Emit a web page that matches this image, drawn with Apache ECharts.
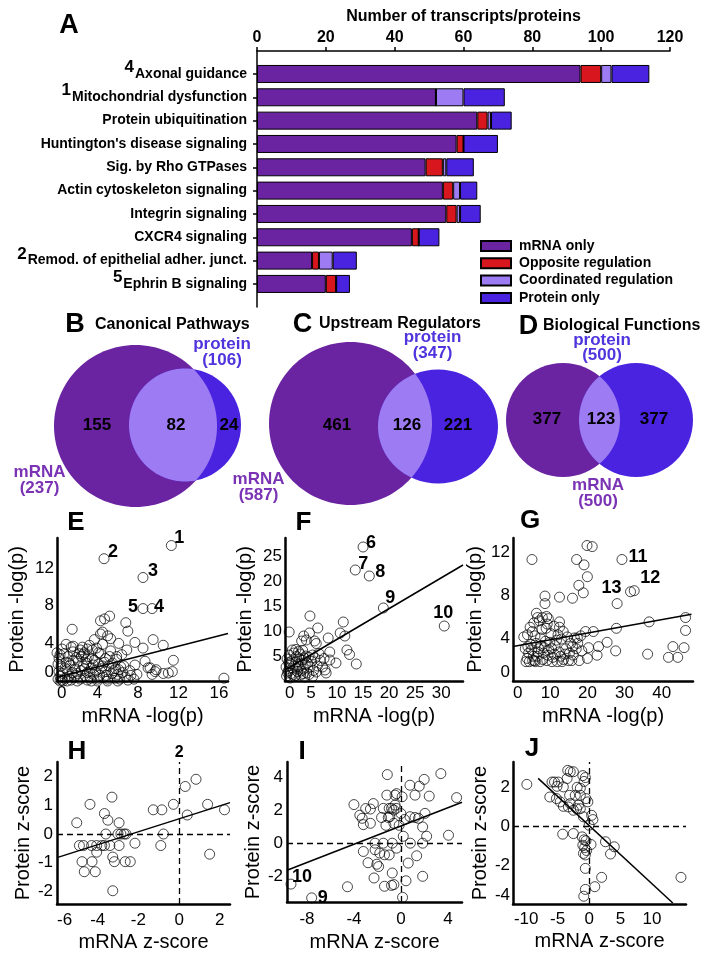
<!DOCTYPE html>
<html><head><meta charset="utf-8">
<script src="https://cdn.jsdelivr.net/npm/echarts@6/dist/echarts.min.js"></script>
<style>html,body{margin:0;padding:0;background:#fff}#c{width:704px;height:960px}</style>
</head><body><div id="c"></div>
<script>
// ---------- Panel A data ----------
const pathways = ['Axonal guidance','Mitochondrial dysfunction','Protein ubiquitination',"Huntington's disease signaling",'Sig. by Rho GTPases','Actin cytoskeleton signaling','Integrin signaling','CXCR4 signaling','Remod. of epithelial adher. junct.','Ephrin B signaling'];
const pathwayNumbers = ['4','1','','','','','','','2','5'];
const mrnaOnly       = [94,52,64,58,49,54,55,45,16,20];
const oppositeReg    = [6,0,3,2,5,3,3,2,2,3];
const coordinatedReg = [3,8,1,0,1,2,1,0,4,0];
const proteinOnly    = [11,12,6,10,8,5,6,6,7,4];
const seriesNamesA   = ['mRNA only','Opposite regulation','Coordinated regulation','Protein only'];

// ---------- Venn data (B, C, D) ----------
const vennTitles      = ['Canonical Pathways','Upstream Regulators','Biological Functions'];
const vennLetters     = ['B','C','D'];
const vennMrnaOnly    = [155,461,377];
const vennBoth        = [82,126,123];
const vennProteinOnly = [24,221,377];

// ---------- Panel E ----------
const ePoints = [[1.5,5.5],[4.3,6.4],[4.7,6.6],[5.2,6.9],[6.8,6.2],[7.0,5.3],[4.5,5.2],[5.0,4.8],[5.3,4.5],[3.7,4.4],[0.3,2.8],[8.5,3.5],[7.7,4.1],[9.5,4.4],[10.5,3.8],[6.1,4.0],[6.9,3.3],[8.7,2.1],[9.2,1.4],[9.7,1.0],[11.5,2.2],[10.5,0.8],[11.0,0.85],[11.4,1.0],[7.2,1.1],[16.5,0.3],[5.9,2.6],[1.6,3.7],[3.0,3.4],[2.6,2.8],[4.3,5.0],[7.7,1.7],[9.4,0.7],[9.8,1.2],[9.0,1.4],
[0.1,0.2],[0.3,0.5],[0.5,0.1],[0.2,1.0],[0.6,0.8],[0.8,0.3],[1.0,1.2],[0.4,1.6],[0.9,2.0],[0.2,2.4],[1.2,0.5],[1.4,0.1],[1.5,0.9],[1.3,1.7],[1.7,0.4],[1.8,1.3],[2.0,0.8],[2.1,2.1],[2.3,0.2],[2.4,1.1],[2.6,1.6],[2.2,2.9],[2.8,0.5],[2.9,1.9],[3.0,0.9],[3.1,2.6],[3.3,0.3],[3.4,1.4],[3.5,3.3],[3.6,0.7],[3.7,2.2],[3.8,1.1],[4.0,0.2],[4.1,1.8],[4.2,0.6],[4.3,2.9],[4.4,1.3],[4.6,0.4],[4.7,2.0],[4.8,1.0],[5.0,0.2],[5.1,1.6],[5.2,2.6],[5.4,0.8],[5.5,1.9],[5.7,0.3],[5.8,1.3],[6.0,0.7],[6.2,0.2],[6.3,1.5],[6.5,0.9],[6.8,0.4],[7.0,0.1],[7.3,0.6],[0.0,3.0],[0.7,2.9],[1.1,2.6],[1.6,3.1],[2.5,3.6],[2.7,3.0],[3.2,3.8],[3.9,3.5],[4.5,3.9],[1.9,2.5],[0.5,3.4],[1.0,0.0],[2.0,0.0],[3.0,0.1],[4.0,0.0],[5.0,0.0],[6.0,0.0],[0.3,0.0],[1.6,2.2],[2.9,2.3],[3.4,0.0],[4.9,0.6],[5.6,1.1],[6.6,1.6],[5.3,3.2],[3.6,1.7],[2.4,2.6],[1.2,1.9],[0.8,1.4],[0.1,1.8],[0.6,0.0],[1.9,0.6],[2.7,1.3],[3.2,1.0],[4.5,1.6],[5.9,2.3],[6.4,2.8],[7.6,0.2],[7.9,0.7],[2.3,3.3],[4.1,3.0],[3.5,2.4],[1.4,3.6],[0.9,3.9],[4.8,2.4],[6.1,1.2]];
const eMarked = [[11.3,14.4],[4.65,13.0],[8.5,11.0],[9.4,7.7],[8.5,7.7]];
const eMarkedText = ['1','2','3','4','5'];
const eFit = [[0,0.4],[16.9,5.05]];
const eXTicks = [0,4,8,12,16];
const eYTicks = [0,4,8,12];

// ---------- Panel F ----------
const fPoints = [[0.8,9.8],[4.8,13],[6.3,10.6],[11.2,11.8],[10.6,9.6],[11.5,9],[11.9,6.2],[12.4,5.3],[13.7,3.4],[8.3,8.6],[4.7,9.6],[4.1,8.2],[5.7,8],[8.6,5.8],[8.6,4.2],[9.8,3.6],[7.5,4.5],[7.7,2.2],[7.9,1.6],[5.3,5.2],[2.6,5.9],[3.6,9.0],[3.2,8.0],[6.0,7.5],[2.1,6.3],
[0.3,1.0],[0.6,2.0],[0.9,3.1],[1.2,1.5],[1.5,2.6],[1.8,0.9],[2.1,3.8],[2.4,1.9],[2.7,2.9],[3.0,1.2],[3.3,4.2],[3.6,2.4],[3.9,3.3],[4.2,1.6],[4.5,4.8],[4.8,2.8],[5.1,3.9],[0.4,4.4],[0.8,5.2],[1.3,4.0],[1.7,5.6],[2.2,4.9],[2.9,5.4],[3.4,6.1],[1.0,0.6],[2.0,1.1],[3.8,0.8],[4.6,1.3],[5.5,2.1],[6.2,3.0],[6.8,4.1],[7.2,2.8],[5.8,4.6],[6.5,5.5],[0.2,2.8],[1.1,3.5],[2.5,3.3],[3.1,2.0],[4.0,5.0],[1.6,1.3],[0.5,1.6],[2.8,4.4],[3.5,1.5],[4.3,3.6],[1.4,6.2],[5.3,0.9],[6.0,1.8],[2.3,2.4],[0.7,3.7],[3.7,4.6]];
const fMarked = [[15,26.8],[13.5,22.2],[16.2,21],[18.9,14.6],[30.6,11]];
const fMarkedText = ['6','7','8','9','10'];
const fFit = [[0,2.2],[34.2,23.2]];
const fXTicks = [0,5,10,15,20,25,30];
const fYTicks = [5,10,15,20,25];

// ---------- Panel G ----------
const gPoints = [[5.1,11.3],[19.9,12.6],[21.3,12.5],[17.1,11.3],[19.1,10.8],[20,9.7],[17.7,8.9],[18.9,8.2],[16,7.7],[12.5,7.8],[8.6,7.9],[8.6,7.2],[9.05,6.0],[9.5,5.8],[12.5,5.5],[12.5,5.0],[21.6,4.6],[27.8,4.9],[36.6,5.5],[46.4,5.9],[46.4,4.7],[46,3.1],[43,3.2],[41.8,2.2],[44.3,2.2],[36.2,2.5],[27.6,2.8],[25.3,3.6],[23,3.2],[22.6,2.4],[20,2.1],[20.3,3.1],[28,7.2],[17.3,4.0],
[3.5,1.8],[4.2,2.6],[4.8,3.4],[5.3,1.9],[5.9,4.2],[6.4,2.3],[6.9,3.0],[7.3,1.8],[7.8,4.8],[8.2,2.6],[8.7,3.7],[9.1,1.9],[9.6,2.9],[10.2,4.4],[10.7,2.2],[11.3,3.3],[11.9,1.8],[12.4,2.7],[13.0,3.9],[13.6,2.0],[14.2,3.0],[14.9,1.9],[15.5,3.5],[16.2,2.4],[17.0,3.0],[17.8,1.9],[18.5,2.8],[3.9,4.3],[4.6,5.0],[5.6,5.4],[6.6,5.9],[7.1,5.6],[6.2,3.5],[5.0,2.9],[7.6,3.3],[8.9,4.9],[9.9,3.6],[11.0,5.1],[12.1,4.3],[13.5,4.6],[14.6,4.1],[16.5,4.0],[4.0,3.2],[5.5,2.3],[6.0,1.8],[8.0,2.0],[9.4,2.4],[10.5,1.8],[12.8,2.3],[15.2,2.6],[3.8,2.1],[4.4,1.8],[5.2,4.6],[6.7,2.7],[7.4,4.0],[8.4,3.1],[9.2,5.3],[10.4,3.0],[11.7,3.8],[13.2,1.8],[14.0,2.5],[15.8,1.9],[17.4,3.5],[18.2,4.2],[19.5,4.6],[2.9,4.1],[3.3,3.0],[6.3,6.3],[7.9,5.9],[5.8,1.9],[11.1,2.5],[16.0,3.2]];
const gMarked = [[29.3,11.3],[32.6,8.4],[31.6,8.3]];
const gMarkedText = ['11','12','13'];
const gFit = [[0,3.2],[48,6.2]];
const gXTicks = [0,10,20,30,40];
const gYTicks = [0,4,8,12];

// ---------- Panel H ----------
const hPoints = [[-5.03,0.39],[-4.38,1.03],[-3.3,1.28],[-3.67,0.71],[-3.5,0.48],[-2.95,0.39],[-3.6,0.0],[-3.0,0.0],[-2.86,0.0],[-2.7,0.0],[-2.61,0.0],[-4.7,-0.4],[-4.05,-0.4],[-3.8,-0.4],[-3.67,-0.4],[-3.4,-0.4],[-2.95,-0.4],[-2.17,-0.32],[-4.05,-0.63],[-3.26,-0.8],[-3.18,-0.96],[-4.77,-0.96],[-4.28,-0.96],[-2.65,-0.96],[-2.4,-0.96],[-4.66,-1.31],[-4.12,-1.31],[-3.26,-1.97],[-1.27,0.84],[-0.85,0.84],[-0.28,1.03],[-0.77,0.0],[-0.9,-0.4],[0.3,1.65],[0.83,1.9],[0.4,0.66],[1.4,1.03],[2.23,0.84],[1.5,-0.7],[-4.9,-0.4],[-4.3,-0.4]];
const hFit = [[-6,-0.82],[2.5,1.09]];
const hXTicks = [-6,-4,-2,0,2];
const hYTicks = [-2,-1,0,1,2];
const hLineLabel = '2';

// ---------- Panel I ----------
const iPoints = [[-1.16,4.14],[3.4,4.2],[1.98,3.85],[0.77,3.5],[1.56,3.44],[1.2,2.9],[2.41,2.84],[-0.37,2.99],[0.1,2.8],[-1.2,2.9],[-0.5,2.9],[-2.35,2.39],[-2.6,2.06],[-4.0,2.33],[-3.0,2.09],[-1.5,2.1],[-1.0,2.1],[-0.8,2.1],[-0.6,2.0],[-0.4,2.1],[-0.5,2.3],[4.74,2.75],[-3.5,1.69],[-3.3,1.5],[-2.6,1.2],[-3.2,1.12],[-1.65,1.55],[-1.08,1.55],[-0.95,1.6],[0.0,1.79],[0.3,1.43],[0.77,1.6],[1.2,1.55],[1.5,1.5],[2.05,1.8],[-0.15,1.08],[-0.6,1.2],[-1.28,1.08],[1.85,0.98],[2.19,0.42],[4.05,0.48],[0.2,0.42],[-2.2,0.0],[-1.5,0.0],[-0.74,0.0],[0.8,0.0],[1.85,0.0],[-3.2,-0.5],[-2.2,-0.4],[-1.8,-0.6],[-1.4,-0.7],[-2.8,-1.18],[-2.05,-1.27],[-1.9,-1.41],[-1.0,-0.71],[-0.37,-0.3],[0.62,-1.2],[1.34,-0.76],[-0.74,-1.8],[-2.29,-2.1],[1.85,-2.0],[0.43,-2.27],[-1.4,-2.6],[-0.6,-2.5],[-0.8,-2.55],[-4.55,-2.63],[0.14,-3.27]];
const iMarked = [[-9.36,-2.47],[-7.6,-3.3]];
const iMarkedText = ['10','9'];
const iFit = [[-9.7,-1.63],[5.2,2.47]];
const iXTicks = [-8,-4,0,4];
const iYTicks = [-2,0,2,4];

// ---------- Panel J ----------
const jPoints = [[-9.9,2.15],[-3.4,2.87],[-3.0,2.8],[-2.5,2.8],[-3.5,2.45],[-5.9,2.27],[-5.5,2.27],[-4.9,2.27],[-5.1,2.05],[-4.1,2.02],[-1.9,2.0],[-1.4,1.95],[-0.8,2.3],[-0.6,2.5],[-1.0,2.6],[-3.1,1.59],[-2.2,1.59],[-1.4,1.59],[-0.5,1.42],[-0.2,1.25],[-6.25,1.5],[-5.2,1.42],[-4.6,1.25],[-4.1,1.02],[-3.3,0.99],[-3.0,1.16],[-1.7,1.08],[-1.4,0.9],[-2.5,0.82],[-2.0,0.9],[-0.9,0.48],[0.4,0.56],[0.6,0.34],[0.0,0.05],[-4.2,-0.41],[-2.5,-0.38],[-1.1,-0.55],[-0.8,-0.7],[-0.5,-0.75],[-1.0,-0.98],[-0.7,-1.1],[-0.4,-1.25],[-0.9,-1.4],[-0.6,-1.48],[0.3,-0.94],[2.6,-0.8],[4.0,-1.06],[3.4,-1.43],[-0.6,-2.17],[1.99,-2.63],[0.9,-3.11],[-0.6,-3.25],[-0.85,-3.6],[14.6,-2.63]];
const jFit = [[-8.1,2.46],[13.3,-3.95]];
const jXTicks = [-10,-5,0,5,10];
const jYTicks = [-4,-2,0,2];

// ================= rendering =================
const FONT = "'Liberation Sans', Arial, Helvetica, sans-serif";
const C_MRNA = '#6A23A1', C_OPP = '#D8161E', C_COORD = '#9D7BF2', C_PROT = '#4A23E0';
const chart = echarts.init(document.getElementById('c'), null, {renderer:'canvas', width:704, height:960});

const grids = [
  {left:257, top:62.3, width:413, height:233.3},   // A bars
  {left:257, top:51, width:413, height:256},       // A axis line extension
  {left:57,  top:538, width:171, height:143},      // E
  {left:285, top:538, width:178, height:143},      // F
  {left:513, top:538, width:180, height:143},      // G
  {left:57,  top:762, width:173, height:142},      // H
  {left:287, top:762, width:175, height:140},      // I
  {left:513, top:762, width:173, height:142}       // J
].map(g => Object.assign({outerBoundsMode:'none', containLabel:false}, g));

const xAxes = [
  {gridIndex:0, type:'value', position:'top', min:0, max:120, interval:20, offset:11.3,
   axisLine:{show:true, lineStyle:{color:'#000', width:1.5}},
   axisTick:{show:true, length:4, lineStyle:{color:'#000', width:1.5}},
   axisLabel:{color:'#000', fontSize:16, fontWeight:'bold', fontFamily:FONT, margin:5},
   splitLine:{show:false},
   name:'Number of transcripts/proteins', nameLocation:'middle', nameGap:26,
   nameTextStyle:{color:'#000', fontSize:16, fontWeight:'bold', fontFamily:FONT}},
  {gridIndex:1, type:'value', show:false, min:0, max:1}
];
const yAxes = [
  {gridIndex:0, type:'category', inverse:true, data:pathways,
   axisLine:{show:false}, splitLine:{show:false},
   axisTick:{show:true, alignWithLabel:true, length:4, lineStyle:{color:'#000', width:1.5}},
   axisLabel:{interval:0, margin:10,
     formatter:(v, i) => (pathwayNumbers[i] ? '{n|' + pathwayNumbers[i] + '}' : '') + '{t|' + v + '}',
     rich:{
       n:{fontSize:17, fontWeight:'bold', fontFamily:FONT, color:'#000', verticalAlign:'top', lineHeight:16, padding:[0,1,0,0]},
       t:{fontSize:14, fontWeight:'bold', fontFamily:FONT, color:'#000', lineHeight:30}
     }}},
  {gridIndex:1, type:'value', min:0, max:1,
   axisLine:{show:true, onZero:false, lineStyle:{color:'#000', width:1.5}},
   axisTick:{show:false}, axisLabel:{show:false}, splitLine:{show:false}}
];

const tickFont = {color:'#000', fontSize:17, fontFamily:FONT};
const nameFont = {color:'#000', fontSize:20, fontFamily:FONT};
const panels = [
  {x:[0,16.9],   y:[0,15.2],   xt:eXTicks, yt:eYTicks, xn:'mRNA -log(p)', yn:'Protein -log(p)', xm:4, ym:3, xng:25, yng:30, xa:true, ya:true},
  {x:[0,34.2],   y:[0,28.6],   xt:fXTicks, yt:fYTicks, xn:'mRNA -log(p)', yn:'Protein -log(p)', xm:4, ym:3, xng:25, yng:30, xa:true, ya:false},
  {x:[0,48.4],   y:[0,13.3],   xt:gXTicks, yt:gYTicks, xn:'mRNA -log(p)', yn:'Protein -log(p)', xm:4, ym:3, xng:25, yng:28, xa:true, ya:true},
  {x:[-6,2.5],   y:[-2.43,2.5],xt:hXTicks, yt:hYTicks, xn:'mRNA z-score', yn:'Protein z-score', xm:8, ym:4, xng:28, yng:22, xa:true, ya:false},
  {x:[-9.7,5.2], y:[-3.55,4.9],xt:iXTicks, yt:iYTicks, xn:'mRNA z-score', yn:'Protein z-score', xm:9, ym:4, xng:30, yng:23, xa:false, ya:false},
  {x:[-12.1,15.4],y:[-4,3.3],  xt:jXTicks, yt:jYTicks, xn:'mRNA z-score', yn:'Protein z-score', xm:7, ym:3, xng:27, yng:20, xa:false, ya:true}
];
panels.forEach((p, k) => {
  const gi = k + 2;
  const line = {show:true, onZero:false, lineStyle:{color:'#000', width:2.5}};
  xAxes.push({gridIndex:gi, type:'value', min:p.x[0], max:p.x[1], axisLine:line, axisTick:{show:false}, splitLine:{show:false},
    axisLabel:Object.assign({customValues:p.xt, margin:p.xm, showMinLabel:true, showMaxLabel:true}, tickFont, p.xa ? {alignMinLabel:'left'} : {}),
    name:p.xn, nameLocation:'middle', nameGap:p.xng, nameTextStyle:nameFont});
  yAxes.push({gridIndex:gi, type:'value', min:p.y[0], max:p.y[1], axisLine:line, axisTick:{show:false}, splitLine:{show:false},
    axisLabel:Object.assign({customValues:p.yt, margin:p.ym, showMinLabel:true, showMaxLabel:true}, tickFont, p.ya ? {verticalAlignMinLabel:'bottom'} : {}),
    name:p.yn, nameLocation:'middle', nameGap:p.yng, nameRotate:90, nameTextStyle:nameFont});
});

const series = [];
// Panel A bars
[mrnaOnly, oppositeReg, coordinatedReg, proteinOnly].forEach((arr, k) => {
  series.push({type:'bar', name:seriesNamesA[k], stack:'a', xAxisIndex:0, yAxisIndex:0, barWidth:18,
    data:arr, itemStyle:{color:[C_MRNA,C_OPP,C_COORD,C_PROT][k], borderColor:'#000', borderWidth:1}});
});

// Scatter panels
const circleStyle = {color:'rgba(0,0,0,0)', borderColor:'#000', borderWidth:0.9};
const markFont = {color:'#000', fontSize:18, fontWeight:'bold', fontFamily:FONT, textBorderWidth:0, opacity:1};
function addPanel(k, pts, fit, marked, markedText, offsets, extra) {
  const gi = k + 2;
  series.push(Object.assign({type:'line', xAxisIndex:gi, yAxisIndex:gi, data:fit, symbol:'none', silent:true,
    lineStyle:{color:'#000', width:1.5}, z:2}, extra || {}));
  series.push({type:'scatter', xAxisIndex:gi, yAxisIndex:gi, data:pts, symbol:'circle', symbolSize:10, itemStyle:circleStyle, z:3, silent:true});
  if (marked) {
    series.push({type:'scatter', xAxisIndex:gi, yAxisIndex:gi, symbol:'circle', symbolSize:10, itemStyle:circleStyle, z:4, silent:true,
      data:marked.map((v, i) => ({value:v, label:Object.assign({show:true, position:'inside', offset:offsets[i], formatter:markedText[i]}, markFont)}))});
  }
}
const dashed = (labelText) => ({markLine:{silent:true, symbol:['none','none'], animation:false,
  lineStyle:{type:[6,4], color:'#000', width:1.3},
  label:{show:false},
  data:[
    Object.assign({xAxis:0}, labelText ? {label:Object.assign({show:true, position:'end', distance:1, formatter:labelText}, markFont, {fontSize:16})} : {}),
    {yAxis:0}
  ]}});
addPanel(0, ePoints, eFit, eMarked, eMarkedText, [[8,-7],[9,-7],[10,-6],[7,-2],[-10,-2]]);
addPanel(1, fPoints, fFit, fMarked, fMarkedText, [[8,-4],[8,-6],[11,-4],[7,-10],[-1,-13]]);
addPanel(2, gPoints, gFit, gMarked, gMarkedText, [[16,-2],[16,-13],[-19,-4]]);
addPanel(3, hPoints, hFit, null, null, null, dashed(hLineLabel));
addPanel(4, iPoints, iFit, iMarked, iMarkedText, [[11,-7],[11,0]], dashed(null));
addPanel(5, jPoints, jFit, null, null, null, dashed(null));

// Venn diagrams (custom series; geometry = layout, counts = data)
const vennLayout = [
  {m:[135.5,426,81.5,81], p:[185,425,56,56.5], nums:[[97,425],[176,425],[229,425]], mLab:[39.5,480.5], pLab:[222,352.5]},
  {m:[350.5,423.5,81.5,81.5], p:[438,426.5,60,57], nums:[[337,425],[407,425],[458,425]], mLab:[258.5,487.5], pLab:[432.5,345.5]},
  {m:[563,420,57,57], p:[636,420,57,57], nums:[[547,419],[601,419],[654,419]], mLab:[598,493.5], pLab:[602,348]}
];
function inside(e, x, y) { const dx = (x - e[0]) / e[2], dy = (y - e[1]) / e[3]; return dx*dx + dy*dy <= 1.0001; }
series.push({type:'custom', coordinateSystem:'none', silent:true, z:1,
  data:vennMrnaOnly.map((v, i) => [i, v, vennBoth[i], vennProteinOnly[i]]),
  renderItem:(params, api) => {
    const i = api.value(0), L = vennLayout[i];
    const mo = api.value(1), b = api.value(2), po = api.value(3);
    const lens = [];
    for (let k = 0; k <= 720; k++) { const t = Math.PI + k / 720 * 2 * Math.PI;
      const x = L.m[0] + L.m[2]*Math.cos(t), y = L.m[1] + L.m[3]*Math.sin(t); if (inside(L.p, x, y)) lens.push([x, y]); }
    for (let k = 0; k <= 720; k++) { const t = k / 720 * 2 * Math.PI;
      const x = L.p[0] + L.p[2]*Math.cos(t), y = L.p[1] + L.p[3]*Math.sin(t); if (inside(L.m, x, y)) lens.push([x, y]); }
    const numStyle = (txt, pos) => ({type:'text', x:pos[0], y:pos[1], style:{text:String(txt), fill:'#000', fontSize:17, fontWeight:'bold', fontFamily:FONT, align:'center', verticalAlign:'middle', textAlign:'center', textVerticalAlign:'middle'}});
    const setLab = (txt, pos, col) => ({type:'text', x:pos[0], y:pos[1], style:{text:txt, fill:col, fontSize:17, fontWeight:'bold', fontFamily:FONT, lineHeight:15.5, align:'center', verticalAlign:'middle', textAlign:'center', textVerticalAlign:'middle'}});
    return {type:'group', children:[
      {type:'ellipse', shape:{cx:L.m[0], cy:L.m[1], rx:L.m[2], ry:L.m[3]}, style:{fill:C_MRNA}},
      {type:'ellipse', shape:{cx:L.p[0], cy:L.p[1], rx:L.p[2], ry:L.p[3]}, style:{fill:C_PROT}},
      {type:'polygon', shape:{points:lens}, style:{fill:C_COORD}},
      numStyle(mo, L.nums[0]), numStyle(b, L.nums[1]), numStyle(po, L.nums[2]),
      setLab('mRNA\n(' + (mo + b) + ')', L.mLab, '#7A33B4'),
      setLab('protein\n(' + (b + po) + ')', L.pLab, '#4F35DE')
    ]};
  }});

// Panel letters and titles
const letter = (t, x, y, size) => ({type:'text', x:x, y:y, style:{text:t, fill:'#000', fontSize:size, fontWeight:'bold', fontFamily:FONT, align:'center', verticalAlign:'middle', textAlign:'center', textVerticalAlign:'middle'}});
const titleTxt = (t, x, y) => ({type:'text', x:x, y:y, style:{text:t, fill:'#000', fontSize:16, fontWeight:'bold', fontFamily:FONT, align:'left', verticalAlign:'middle', textAlign:'left', textVerticalAlign:'middle'}});
const graphic = [
  letter('A', 69, 26, 27),
  letter(vennLetters[0], 75, 325, 27), titleTxt(vennTitles[0], 95, 325),
  letter(vennLetters[1], 302.5, 325, 27), titleTxt(vennTitles[1], 319, 324),
  letter(vennLetters[2], 528.5, 327, 27), titleTxt(vennTitles[2], 543, 326),
  letter('E', 76, 523, 26), letter('F', 303.5, 523, 26), letter('G', 530, 521, 26),
  letter('H', 77, 752, 26), letter('I', 302, 752, 26), letter('J', 532, 749, 26)
];

chart.setOption({
  animation:false,
  backgroundColor:'#fff',
  textStyle:{fontFamily:FONT},
  grid:grids, xAxis:xAxes, yAxis:yAxes, series:series, graphic:{elements:graphic},
  legend:{data:seriesNamesA, orient:'vertical', left:480, top:239, padding:0, itemWidth:30, itemHeight:10, itemGap:3.3, icon:'rect',
    selectedMode:false,
    textStyle:{color:'#000', fontSize:14, fontWeight:'bold', fontFamily:FONT, lineHeight:14, padding:[0,0,0,3]}}
});
</script></body></html>
